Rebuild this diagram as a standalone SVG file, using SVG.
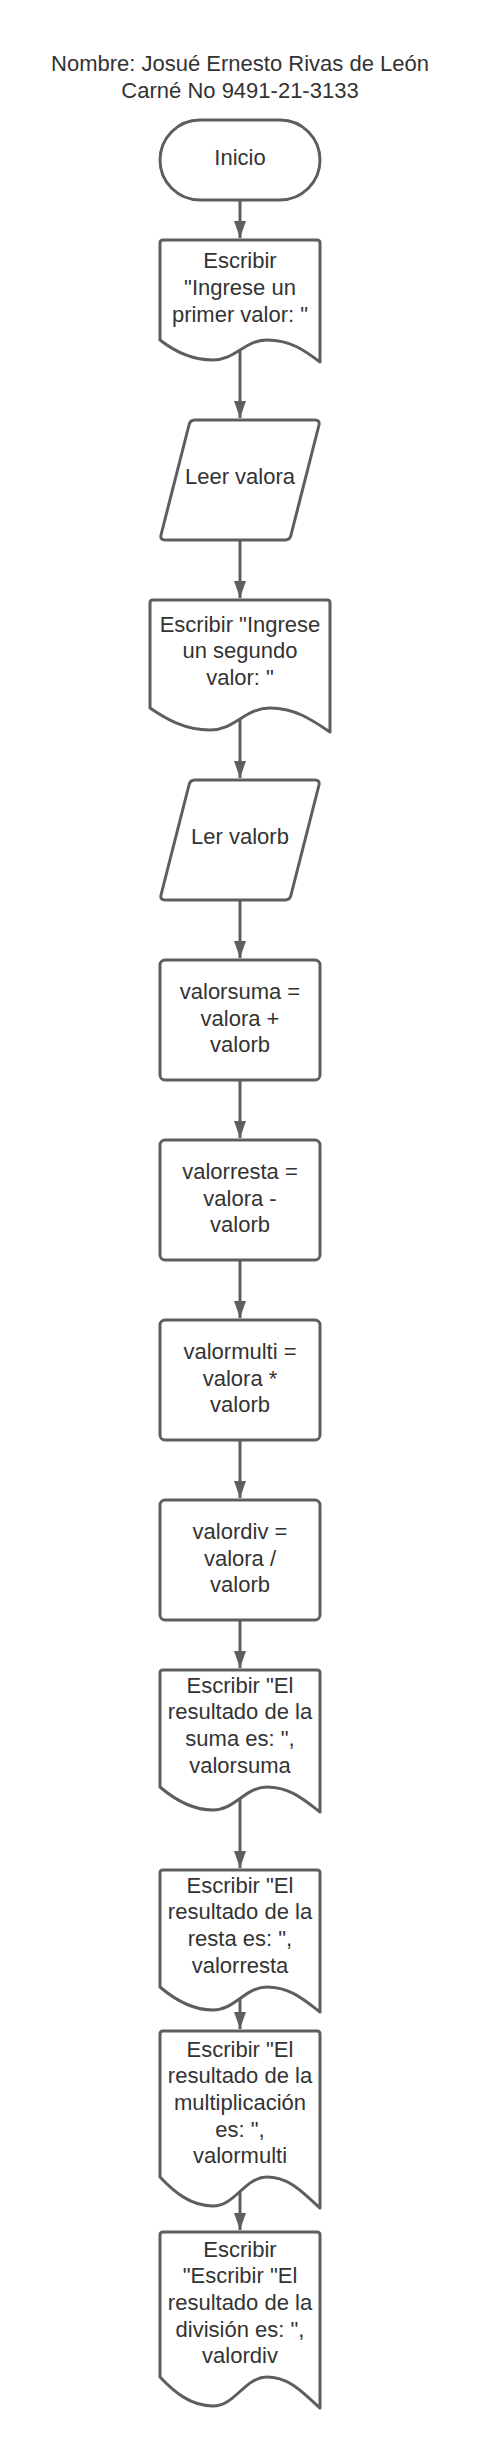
<svg xmlns="http://www.w3.org/2000/svg" width="480" height="2446" viewBox="0 0 480 2446">
<style>
.shape{fill:#ffffff;stroke:#5e5e5e;stroke-width:3;stroke-linejoin:round}
.lbl{font-family:"Liberation Sans",Arial,sans-serif;font-size:22px;fill:#333333;text-anchor:middle}
.conn{stroke:#5e5e5e;stroke-width:3;fill:none;marker-end:url(#arr)}
</style>
<defs>
<marker id="arr" markerUnits="userSpaceOnUse" markerWidth="17" markerHeight="12" refX="17" refY="6" orient="auto">
<path d="M0,0 L17,6 L0,12 Z" fill="#5e5e5e"/>
</marker>
</defs>
<rect width="480" height="2446" fill="#ffffff"/>
<g id="title">
<text class="lbl"><tspan x="240" y="71">Nombre: Josué Ernesto Rivas de León</tspan><tspan x="240" y="98">Carné No 9491-21-3133</tspan></text>
</g>
<g id="connectors">
<line class="conn" x1="240" y1="200" x2="240" y2="238"/>
<line class="conn" x1="240" y1="350" x2="240" y2="418"/>
<line class="conn" x1="240" y1="540" x2="240" y2="598"/>
<line class="conn" x1="240" y1="719" x2="240" y2="778"/>
<line class="conn" x1="240" y1="900" x2="240" y2="958"/>
<line class="conn" x1="240" y1="1080" x2="240" y2="1138"/>
<line class="conn" x1="240" y1="1260" x2="240" y2="1318"/>
<line class="conn" x1="240" y1="1440" x2="240" y2="1498"/>
<line class="conn" x1="240" y1="1620" x2="240" y2="1668"/>
<line class="conn" x1="240" y1="1798" x2="240" y2="1868"/>
<line class="conn" x1="240" y1="1998" x2="240" y2="2029"/>
<line class="conn" x1="240" y1="2191" x2="240" y2="2230"/>
</g>
<g id="inicio">
<rect class="shape" x="160" y="120" width="160" height="80" rx="40" ry="40"/>
<text class="lbl" x="240" y="165">Inicio</text>
</g>
<g id="escribir1">
<path class="shape" d="M160,243 Q160,240 163,240 H317 Q320,240 320,243 V362 C304,350 290,340 267,340 C245,340 235,360 213,360 C191,360 174,351 160,340 Z"/>
<text class="lbl"><tspan x="240" y="268">Escribir</tspan><tspan x="240" y="295">"Ingrese un</tspan><tspan x="240" y="322">primer valor: "</tspan></text>
</g>
<g id="leer1">
<path class="shape" d="M195,420 H315 Q320,420 319,425 L291,535 Q290,540 285,540 H165 Q160,540 161,535 L189,425 Q190,420 195,420 Z"/>
<text class="lbl" x="240" y="484">Leer valora</text>
</g>
<g id="escribir2">
<path class="shape" d="M150,603 Q150,600 153,600 H327 Q330,600 330,603 V732 C312,720 295,708 270,708 C245,708 235,730 210,730 C185,730 166,719 150,708 Z"/>
<text class="lbl"><tspan x="240" y="632">Escribir "Ingrese</tspan><tspan x="240" y="658">un segundo</tspan><tspan x="240" y="685">valor: "</tspan></text>
</g>
<g id="leer2">
<path class="shape" d="M195,780 H315 Q320,780 319,785 L291,895 Q290,900 285,900 H165 Q160,900 161,895 L189,785 Q190,780 195,780 Z"/>
<text class="lbl" x="240" y="844">Ler valorb</text>
</g>
<g id="suma">
<rect class="shape" x="160" y="960" width="160" height="120" rx="5" ry="5"/>
<text class="lbl"><tspan x="240" y="999">valorsuma =</tspan><tspan x="240" y="1026">valora +</tspan><tspan x="240" y="1052">valorb</tspan></text>
</g>
<g id="resta">
<rect class="shape" x="160" y="1140" width="160" height="120" rx="5" ry="5"/>
<text class="lbl"><tspan x="240" y="1179">valorresta =</tspan><tspan x="240" y="1206">valora -</tspan><tspan x="240" y="1232">valorb</tspan></text>
</g>
<g id="multi">
<rect class="shape" x="160" y="1320" width="160" height="120" rx="5" ry="5"/>
<text class="lbl"><tspan x="240" y="1359">valormulti =</tspan><tspan x="240" y="1386">valora *</tspan><tspan x="240" y="1412">valorb</tspan></text>
</g>
<g id="div">
<rect class="shape" x="160" y="1500" width="160" height="120" rx="5" ry="5"/>
<text class="lbl"><tspan x="240" y="1539">valordiv =</tspan><tspan x="240" y="1566">valora /</tspan><tspan x="240" y="1592">valorb</tspan></text>
</g>
<g id="escribir3">
<path class="shape" d="M160,1673 Q160,1670 163,1670 H317 Q320,1670 320,1673 V1812 C304,1800 290,1787 267,1787 C245,1787 235,1810 213,1810 C191,1810 174,1799 160,1787 Z"/>
<text class="lbl"><tspan x="240" y="1693">Escribir "El</tspan><tspan x="240" y="1719">resultado de la</tspan><tspan x="240" y="1746">suma es: ",</tspan><tspan x="240" y="1773">valorsuma</tspan></text>
</g>
<g id="escribir4">
<path class="shape" d="M160,1873 Q160,1870 163,1870 H317 Q320,1870 320,1873 V2012 C304,2000 290,1987 267,1987 C245,1987 235,2010 213,2010 C191,2010 174,1999 160,1987 Z"/>
<text class="lbl"><tspan x="240" y="1893">Escribir "El</tspan><tspan x="240" y="1919">resultado de la</tspan><tspan x="240" y="1946">resta es: ",</tspan><tspan x="240" y="1973">valorresta</tspan></text>
</g>
<g id="escribir5">
<path class="shape" d="M160,2034 Q160,2031 163,2031 H317 Q320,2031 320,2034 V2208 C304,2194 290,2177 267,2177 C245,2177 235,2206 213,2206 C191,2206 174,2192 160,2177 Z"/>
<text class="lbl"><tspan x="240" y="2057">Escribir "El</tspan><tspan x="240" y="2083">resultado de la</tspan><tspan x="240" y="2110">multiplicación</tspan><tspan x="240" y="2137">es: ",</tspan><tspan x="240" y="2163">valormulti</tspan></text>
</g>
<g id="escribir6">
<path class="shape" d="M160,2235 Q160,2232 163,2232 H317 Q320,2232 320,2235 V2408 C304,2394 290,2377 267,2377 C245,2377 235,2406 213,2406 C191,2406 174,2392 160,2377 Z"/>
<text class="lbl"><tspan x="240" y="2257">Escribir</tspan><tspan x="240" y="2283">"Escribir "El</tspan><tspan x="240" y="2310">resultado de la</tspan><tspan x="240" y="2337">división es: ",</tspan><tspan x="240" y="2363">valordiv</tspan></text>
</g>
</svg>
